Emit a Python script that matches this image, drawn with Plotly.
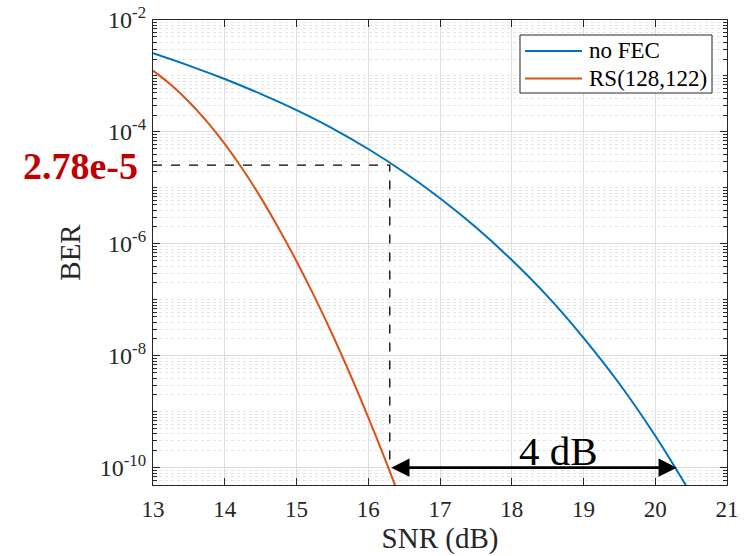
import plotly.graph_objects as go
import numpy as np

# ---- data ----
snr_db = [13, 13.5, 14, 14.5, 15, 15.5, 16, 16.5, 17, 17.5, 18, 18.5, 19, 19.5, 20, 20.5]
log_ber_nofec = [-2.595, -2.815, -3.055, -3.32, -3.61, -3.935, -4.305, -4.72, -5.185,
                 -5.705, -6.29, -6.94, -7.68, -8.50, -9.43, -10.47]

snr_db_rs = [13, 13.25, 13.5, 13.75, 14, 14.25, 14.5, 14.75, 15, 15.25, 15.5, 15.75,
             16, 16.25, 16.5]
log_ber_rs = [-2.905, -3.158, -3.46, -3.813, -4.215, -4.668, -5.17, -5.72, -6.31,
              -6.944, -7.62, -8.34, -9.10, -9.90, -10.75]

ber_nofec = [10 ** v for v in log_ber_nofec]
ber_rs = [10 ** v for v in log_ber_rs]

ref_ber = 10 ** -4.595          # dashed reference level
ref_label = "2.78e-5"
fec_snr = 16.3
nofec_snr_at_target = 20.3
target_ber = 1e-10
gain_label = "4 dB"

x_range = [13, 21]
x_ticks = [13, 14, 15, 16, 17, 18, 19, 20, 21]
y_tick_exp = [-10, -8, -6, -4, -2]
y_log_range = [-10.31, -2]

series_names = ["no FEC", "RS(128,122)"]
series_colors = ["#0072BD", "#D95319"]

FONT = "Liberation Serif"
TXT = "#262626"

W, H = 756, 556
ML, MR, MT, MB = 153, 29, 20, 71
PW, PH = W - ML - MR, H - MT - MB


def px(xp):
    return (xp - ML) / PW


def py(yp):
    return (H - MB - yp) / PH


fig = go.Figure()
fig.add_trace(go.Scatter(x=snr_db, y=ber_nofec, mode="lines", name=series_names[0],
                         line=dict(color=series_colors[0], width=2, shape="spline", smoothing=1)))
fig.add_trace(go.Scatter(x=snr_db_rs, y=ber_rs, mode="lines", name=series_names[1],
                         line=dict(color=series_colors[1], width=2, shape="spline", smoothing=1)))

# dashed reference lines
fig.add_trace(go.Scatter(x=[x_range[0], fec_snr, fec_snr], y=[ref_ber, ref_ber, target_ber],
                         mode="lines", showlegend=False, hoverinfo="skip",
                         line=dict(color="black", width=1.3, dash="dash")))

# double arrow
fig.add_annotation(x=nofec_snr_at_target, y=np.log10(target_ber),
                   ax=fec_snr, ay=np.log10(target_ber), axref="x", ayref="y",
                   xref="x", yref="y", text="", showarrow=True,
                   arrowhead=2, arrowside="end+start", arrowsize=1.3, arrowwidth=2.8,
                   arrowcolor="black")
fig.add_annotation(x=px(558), y=np.log10(target_ber),
                   xref="paper", yref="y", text=gain_label, showarrow=False,
                   xanchor="center", yanchor="bottom", yshift=-8,
                   font=dict(family=FONT, size=41, color="black"))
fig.add_annotation(x=px(80.5), y=np.log10(ref_ber), xref="paper", yref="y",
                   text="<b>%s</b>" % ref_label, showarrow=False,
                   xanchor="center", yanchor="middle", yshift=-1,
                   font=dict(family=FONT, size=38, color="#C00000"))

# legend box drawn to MATLAB proportions
fig.add_shape(type="rect", xref="paper", yref="paper",
              x0=px(520), x1=px(712), y0=py(93), y1=py(35),
              line=dict(color=TXT, width=1), fillcolor="white", layer="above")
for i, (name, col) in enumerate(zip(series_names, series_colors)):
    yy = [51, 78.5][i]
    fig.add_shape(type="line", xref="paper", yref="paper",
                  x0=px(525), x1=px(582), y0=py(yy), y1=py(yy),
                  line=dict(color=col, width=2), layer="above")
    fig.add_annotation(x=px(587), y=py(yy), xref="paper", yref="paper",
                       text=name, showarrow=False, xanchor="left", yanchor="middle",
                       font=dict(family=FONT, size=23, color="black"))

fig.update_layout(
    width=W, height=H,
    margin=dict(l=ML, r=MR, t=MT, b=MB, autoexpand=False),
    paper_bgcolor="white", plot_bgcolor="white",
    font=dict(family=FONT, size=23, color=TXT),
    showlegend=False,
)

fig.update_xaxes(
    range=x_range, tickmode="array", tickvals=x_ticks, automargin=False,
    ticks="inside", ticklen=7, tickwidth=1, tickcolor=TXT,
    tickfont=dict(family=FONT, size=23, color=TXT),
    showline=True, linecolor=TXT, linewidth=1.2, mirror="ticks",
    showgrid=True, gridcolor="#dedede", gridwidth=1,
    zeroline=False, ticklabelstandoff=3,
    title=dict(text="SNR (dB)", font=dict(family=FONT, size=29, color=TXT), standoff=3),
)
fig.update_yaxes(
    type="log", range=y_log_range, tickmode="array", automargin=False,
    tickvals=[10 ** e for e in y_tick_exp],
    ticktext=["10<sup>%d</sup>" % e for e in y_tick_exp],
    ticks="inside", ticklen=7, tickwidth=1, tickcolor=TXT,
    tickfont=dict(family=FONT, size=24, color=TXT),
    showline=True, linecolor=TXT, linewidth=1.2, mirror="ticks",
    showgrid=True, gridcolor="#dedede", gridwidth=1,
    zeroline=False, ticklabelstandoff=1,
    minor=dict(dtick="D1", ticks="inside", ticklen=4, tickcolor=TXT,
               showgrid=True, gridcolor="#e4e4e4", griddash="dot", gridwidth=1),
    title=dict(text="BER", font=dict(family=FONT, size=29, color=TXT), standoff=10),
)

fig.write_html("out.html", post_script="document.body.style.margin='0px';",
               config={"displayModeBar": False})
